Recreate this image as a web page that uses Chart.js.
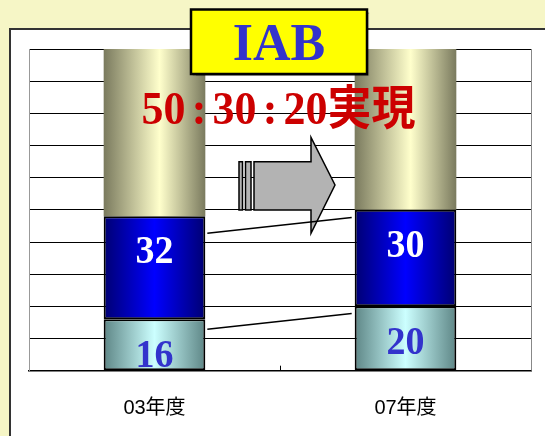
<!DOCTYPE html>
<html><head><meta charset="utf-8">
<script src="https://cdn.jsdelivr.net/npm/chart.js@4"></script>
<style>html,body{margin:0;padding:0;background:#F6F6C6;}canvas{display:block}</style>
</head><body>
<canvas id="c" width="545" height="436"></canvas>
<script>
// ---- data ----
const categories = ['03年度', '07年度'];
const bottomValues = [16, 20];
const middleValues = [32, 30];
const topValues = [52, 50];
const bottomLabels = ['16', '20'];
const middleLabels = ['32', '30'];
const connectorFrom = [12.9, 42.7];
const connectorTo = [17.8, 47.6];
const yMin = 0, yMax = 100, yStep = 10;
const titleText = 'IAB';
const subtitleParts = ['50', '：', '30', '：', '20', '実現'];

const BAR_PCT = 0.405;

function barGradient(edge, center, mid) {
  return (ctx) => {
    const chart = ctx.chart;
    const xs = chart.scales && chart.scales.x;
    if (!xs || ctx.dataIndex === undefined || !xs.width) return center;
    const cx = xs.getPixelForValue(ctx.dataIndex);
    const w = (xs.width / categories.length) * BAR_PCT;
    const g = chart.ctx.createLinearGradient(cx - w / 2, 0, cx + w / 2, 0);
    g.addColorStop(0, edge);
    g.addColorStop(mid, center);
    g.addColorStop(1, edge);
    return g;
  };
}

const decor = {
  id: 'decor',
  beforeDraw(chart) {
    const c = chart.ctx;
    c.save();
    c.fillStyle = '#F6F6C6';
    c.fillRect(0, 0, chart.width, chart.height);
    c.fillStyle = '#FFFFFF';
    c.fillRect(10, 29, chart.width, chart.height);
    c.strokeStyle = '#333333';
    c.lineWidth = 2;
    c.beginPath();
    c.moveTo(10, chart.height + 5);
    c.lineTo(10, 29);
    c.lineTo(chart.width + 5, 29);
    c.stroke();
    c.restore();
  },
  afterDatasetsDraw(chart) {
    const c = chart.ctx;
    const ca = chart.chartArea;
    const ys = chart.scales.y;
    const xs = chart.scales.x;
    const m0 = chart.getDatasetMeta(0).data;
    const m1 = chart.getDatasetMeta(1).data;
    c.save();
    // right frame
    c.strokeStyle = '#888888';
    c.lineWidth = 1;
    c.beginPath();
    c.moveTo(Math.round(ca.right) + 0.5, ca.top);
    c.lineTo(Math.round(ca.right) + 0.5, ca.bottom);
    c.stroke();
    // middle tick
    const mx = (xs.getPixelForValue(0) + xs.getPixelForValue(1)) / 2;
    c.strokeStyle = '#000';
    c.beginPath();
    c.moveTo(Math.round(mx) + 0.5, ca.bottom);
    c.lineTo(Math.round(mx) + 0.5, ca.bottom - 5);
    c.stroke();

    // arrow
    c.fillStyle = '#B3B3B3';
    c.strokeStyle = '#000';
    c.lineWidth = 1.5;
    const sT = 161.7, sB = 210;
    c.beginPath(); c.rect(239, sT, 3.5, sB - sT); c.fill(); c.stroke();
    c.beginPath(); c.rect(245.5, sT, 5.5, sB - sT); c.fill(); c.stroke();
    c.beginPath();
    c.moveTo(254, sT); c.lineTo(311, sT); c.lineTo(311, 137.3);
    c.lineTo(335, 185); c.lineTo(311, 233.3); c.lineTo(311, sB); c.lineTo(254, sB);
    c.closePath(); c.fill(); c.stroke();

    // connectors
    c.lineWidth = 1.5;
    c.strokeStyle = '#000';
    const a = m0[0], b = m0[1];
    for (let k = 0; k < connectorFrom.length; k++) {
      c.beginPath();
      c.moveTo(a.x + a.width / 2 + 2, ys.getPixelForValue(connectorFrom[k]));
      c.lineTo(b.x - b.width / 2 - 3, ys.getPixelForValue(connectorTo[k]));
      c.stroke();
    }

    // segment labels
    c.textAlign = 'center';
    c.textBaseline = 'alphabetic';
    c.font = 'bold 38px "Liberation Serif", "Times New Roman", serif';
    for (let j = 0; j < categories.length; j++) {
      const e0 = m0[j], e1 = m1[j];
      c.save();
      c.fillStyle = '#3333CC';
      c.translate(e0.x, e0.y + 48);
      c.scale(1, 1.06);
      c.fillText(bottomLabels[j], 0, 0);
      c.restore();
      c.save();
      c.fillStyle = '#FFFFFF';
      c.translate(e1.x, e1.y + 47);
      c.scale(1, 1.06);
      c.fillText(middleLabels[j], 0, 0);
      c.restore();
    }

    // title box
    c.save();
    c.shadowColor = 'rgba(0,0,0,0.35)';
    c.shadowOffsetX = 2; c.shadowOffsetY = 2; c.shadowBlur = 1;
    c.fillStyle = '#FFFF00';
    c.fillRect(191, 9.5, 176, 64.5);
    c.restore();
    c.strokeStyle = '#000';
    c.lineWidth = 2.5;
    c.strokeRect(191, 9.5, 176, 64.5);
    c.fillStyle = '#3333CC';
    c.font = 'bold 52px "Liberation Serif", "Times New Roman", serif';
    c.textAlign = 'center';
    c.fillText(titleText, 279, 60);

    // red subtitle
    const fs = 44;
    const digitFont = 'bold ' + fs + 'px "Liberation Serif", "Times New Roman", serif';
    const cjkFont = 'bold ' + fs + 'px "Noto Sans CJK JP", sans-serif';
    const colonSlot = 27;
    const widths = subtitleParts.map(p => {
      if (p === '：') return colonSlot;
      c.font = /[0-9]/.test(p) ? digitFont : cjkFont;
      return c.measureText(p).width;
    });
    const total = widths.reduce((s, w) => s + w, 0);
    let x = 278.6 - total / 2;
    c.fillStyle = '#CC0000';
    c.textAlign = 'left';
    subtitleParts.forEach((p, i) => {
      c.save();
      c.translate(0, 124);
      c.scale(1, 1.07);
      if (p === '：') {
        c.font = digitFont;
        c.textAlign = 'center';
        c.fillText(':', x + colonSlot / 2, 0);
      } else {
        c.font = /[0-9]/.test(p) ? digitFont : cjkFont;
        c.fillText(p, x, 0);
      }
      c.restore();
      x += widths[i];
    });
    c.restore();
  }
};

new Chart(document.getElementById('c'), {
  type: 'bar',
  data: {
    labels: categories,
    datasets: [
      { data: bottomValues, backgroundColor: barGradient('#5E8686', '#CCFFFF', 0.5),
        borderColor: '#000', borderWidth: 2, borderSkipped: false },
      { data: middleValues, backgroundColor: barGradient('#000072', '#0000FF', 0.5),
        borderColor: '#000', borderWidth: 2, borderSkipped: false },
      { data: topValues, backgroundColor: barGradient('#7A7A5E', '#FFFFCC', 0.55),
        borderWidth: 0 }
    ]
  },
  options: {
    responsive: false,
    devicePixelRatio: 1,
    animation: false,
    events: [],
    datasets: { bar: { barPercentage: BAR_PCT, categoryPercentage: 1 } },
    layout: { padding: { left: 29, right: 14, top: 49, bottom: 0 } },
    plugins: { legend: { display: false }, tooltip: { enabled: false }, title: { display: false } },
    scales: {
      x: {
        stacked: true,
        grid: { display: true, drawOnChartArea: false, drawTicks: false },
        border: { display: true, color: '#000', width: 1.5 },
        ticks: { color: '#000', padding: 25.4,
          font: { family: '"Liberation Sans", "Noto Sans CJK JP", sans-serif', size: 20 } },
        afterFit: (scale) => { scale.height = 65.3; }
      },
      y: {
        stacked: true,
        min: yMin, max: yMax,
        ticks: { display: false, stepSize: yStep },
        grid: { color: '#000', lineWidth: 1, drawTicks: false },
        border: { display: true, color: '#999', width: 1 }
      }
    }
  },
  plugins: [decor]
});
</script>
</body></html>
